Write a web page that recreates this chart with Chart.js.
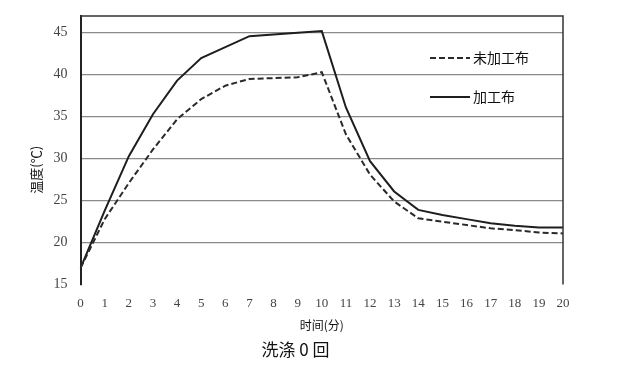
<!DOCTYPE html>
<html>
<head>
<meta charset="utf-8">
<script src="https://cdn.jsdelivr.net/npm/chart.js@4.4.1/dist/chart.umd.min.js"></script>
<style>
  html, body { margin: 0; padding: 0; background: #fff; }
  #wrap { width: 627px; height: 376px; }
</style>
</head>
<body>
<div id="wrap"><canvas id="washChart"></canvas></div>
<script>
// time (minutes)
const minutes = ['0', '1', '2', '3', '4', '5', '6', '7', '8', '9', '10',
                 '11', '12', '13', '14', '15', '16', '17', '18', '19', '20'];
// 未加工布 (dashed)
const untreated = [17, 22.8, 27.1, 31.1, 34.7, 37.1, 38.7, 39.5, 39.6, 39.7, 40.3,
                   32.9, 28.1, 24.9, 22.9, 22.5, 22.1, 21.7, 21.5, 21.2, 21.1];
// 加工布 (solid)
const treated = [17, 23.8, 30.3, 35.3, 39.3, 42.0, 43.3, 44.6, 44.8, 45.0, 45.2,
                 36.1, 29.7, 26.1, 23.9, 23.3, 22.8, 22.3, 22.0, 21.8, 21.8];
const seriesNames = ['未加工布', '加工布'];
const yTicks = [15, 20, 25, 30, 35, 40, 45];

var ctx = document.getElementById('washChart').getContext('2d');

// box round the plot: top and right edge
const frame = {
    id: 'frame',
    afterDraw(chart) {
        const a = chart.chartArea;
        const c = chart.ctx;
        c.save();
        c.strokeStyle = '#333';
        c.lineWidth = 1.5;
        c.beginPath();
        c.moveTo(a.left, a.top);
        c.lineTo(a.right, a.top);
        c.lineTo(a.right, a.bottom);
        c.stroke();
        c.restore();
    }
};

// legend sits inside the plot, right side
const innerLegend = {
    id: 'innerLegend',
    afterDraw(chart) {
        const c = chart.ctx;
        const items = chart.data.datasets;
        const x0 = 430, x1 = 470;
        const rows = [58, 97];
        c.save();
        items.forEach((ds, i) => {
            c.strokeStyle = ds.borderColor;
            c.lineWidth = 2;
            c.setLineDash(ds.borderDash || []);
            c.beginPath();
            c.moveTo(x0, rows[i]);
            c.lineTo(x1, rows[i]);
            c.stroke();
            c.setLineDash([]);
            c.fillStyle = '#111';
            c.font = '14px "Noto Sans CJK SC"';
            c.textBaseline = 'middle';
            c.fillText(ds.label, x1 + 3, rows[i]);
        });
        c.restore();
    }
};

const washChart = new Chart(ctx, {
    type: 'line',
    data: {
        labels: minutes,
        datasets: [{
            label: seriesNames[0],
            data: untreated,
            borderColor: '#2a2a2a',
            borderWidth: 2,
            borderDash: [6, 3],
            pointRadius: 0,
            tension: 0,
            fill: false
        }, {
            label: seriesNames[1],
            data: treated,
            borderColor: '#1e1e1e',
            borderWidth: 2,
            pointRadius: 0,
            tension: 0,
            fill: false
        }]
    },
    options: {
        responsive: true,
        maintainAspectRatio: false,
        animation: false,
        layout: {
            padding: { left: 28, right: 64, top: 16, bottom: 16 }
        },
        plugins: {
            legend: { display: false },
            tooltip: { enabled: false },
            title: {
                display: true,
                position: 'bottom',
                text: '洗涤 0 回',
                color: '#111',
                font: { size: 17, family: '"Noto Sans CJK SC"', weight: 'normal' },
                padding: { top: 7, bottom: 0 }
            }
        },
        scales: {
            x: {
                grid: { display: false },
                border: { display: false },
                ticks: {
                    color: '#444',
                    font: { size: 13, family: '"Liberation Serif"' },
                    padding: 3,
                    maxRotation: 0,
                    autoSkip: false
                },
                title: {
                    display: true,
                    text: '时间(分)',
                    color: '#111',
                    font: { size: 12, family: '"Noto Sans CJK SC"' },
                    padding: { top: 4, bottom: 0 }
                }
            },
            y: {
                min: 15,
                max: 47,
                afterBuildTicks(scale) {
                    scale.ticks = yTicks.map(v => ({ value: v }));
                },
                grid: {
                    drawTicks: true,
                    tickLength: 10,
                    tickColor: 'rgba(0,0,0,0)',
                    color: (c) => c.tick && c.tick.value === 15 ? 'rgba(0,0,0,0)' : '#8a8a8a',
                    lineWidth: 1.3
                },
                border: { display: true, color: '#222', width: 2 },
                ticks: {
                    color: '#444',
                    font: { size: 14, family: '"Liberation Serif"' },
                    padding: 3
                },
                title: {
                    display: true,
                    // trailing ideographic spaces push the label a bit lower, as in the original
                    text: '温度(℃)\u3000\u3000\u3000',
                    color: '#111',
                    font: { size: 13, family: '"Noto Sans CJK SC"' },
                    padding: { top: 0, bottom: 7 }
                }
            }
        }
    },
    plugins: [frame, innerLegend]
});
</script>
</body>
</html>
